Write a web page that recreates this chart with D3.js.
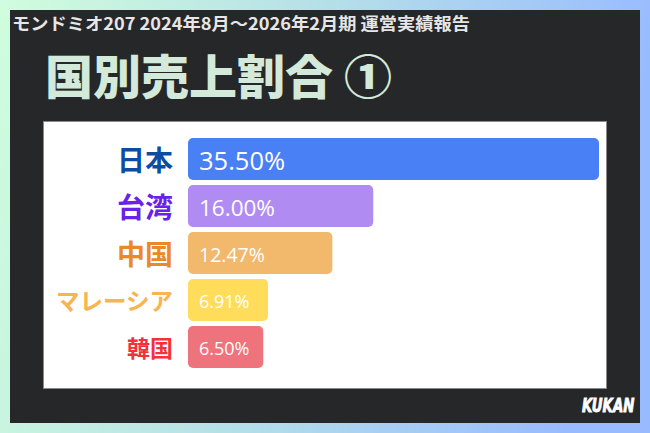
<!DOCTYPE html>
<html><head><meta charset="utf-8">
<script src="https://cdn.jsdelivr.net/npm/d3@7"></script>
<style>
html,body{margin:0;padding:0;}
body{width:650px;height:433px;overflow:hidden;}
</style></head>
<body>
<svg id="c" width="650" height="433"></svg>
<script>
const headerText = "モンドミオ207 2024年8月～2026年2月期 運営実績報告";
const titleText = "国別売上割合 ①";
const categories = ["日本", "台湾", "中国", "マレーシア", "韓国"];
const shares = [35.50, 16.00, 12.47, 6.91, 6.50];
const valueLabels = ["35.50%", "16.00%", "12.47%", "6.91%", "6.50%"];
const barColors = ["#4a80f5", "#b08cf2", "#f2b86c", "#ffdd5a", "#ef737c"];
const labelColors = ["#0b4da2", "#6a22e8", "#e9892a", "#f7b552", "#f33138"];
const labelSizes = [28, 28, 28, 23.5, 23];
const valueSizes = [25.5, 22.5, 19.5, 18, 18];

const svg = d3.select("#c");
const defs = svg.append("defs");
const g = defs.append("linearGradient").attr("id","bg").attr("x1","0").attr("y1","0").attr("x2","1").attr("y2","0.15");
g.append("stop").attr("offset","0").attr("stop-color","#d0fddd");
g.append("stop").attr("offset","0.5").attr("stop-color","#b5dfe8");
g.append("stop").attr("offset","1").attr("stop-color","#98bbff");
svg.append("rect").attr("width",650).attr("height",433).attr("fill","url(#bg)");
svg.append("rect").attr("x",10).attr("y",10).attr("width",630).attr("height",413).attr("fill","#262729");

svg.append("text").attr("x",12).attr("y",30)
  .attr("font-family","'Noto Sans CJK JP', Roboto, sans-serif").attr("font-weight",700)
  .attr("font-size",17).attr("fill","#e6e6e6").text(headerText)
  .attr("textLength",458).attr("lengthAdjust","spacingAndGlyphs");

svg.append("text").attr("x",45).attr("y",94)
  .attr("font-family","'Noto Sans CJK JP', sans-serif").attr("font-weight",900)
  .attr("font-size",47).attr("fill","#d3eadb").text(titleText)
  .attr("textLength",347).attr("lengthAdjust","spacingAndGlyphs");

svg.append("rect").attr("x",43.5).attr("y",121.5).attr("width",563).attr("height",267)
  .attr("fill","#ffffff").attr("stroke","#8a8a8a").attr("stroke-width",1);

const x = d3.scaleLinear().domain([0, 35.5]).range([188, 599]);
const y = d3.scaleBand().domain(categories).range([138, 368]).paddingInner(0.106).paddingOuter(0);

const rows = svg.append("g").selectAll("g").data(categories).join("g");
rows.append("rect")
  .attr("x", x(0)).attr("y", d => y(d))
  .attr("width", (d,i) => x(shares[i]) - x(0)).attr("height", y.bandwidth())
  .attr("rx",5).attr("ry",5)
  .attr("fill", (d,i) => barColors[i]);
rows.append("text")
  .attr("x", x(0) - 15).attr("y", d => y(d) + y.bandwidth()/2)
  .attr("text-anchor","end").attr("dominant-baseline","central")
  .attr("font-family","'Noto Sans CJK JP', sans-serif").attr("font-weight",700)
  .attr("font-size",(d,i)=>labelSizes[i]).attr("fill",(d,i)=>labelColors[i])
  .text(d => d);
rows.append("text")
  .attr("x", x(0) + 11).attr("y", d => y(d) + y.bandwidth()/2 + 1)
  .attr("dominant-baseline","central")
  .attr("font-family","'Open Sans', sans-serif").attr("font-weight",400)
  .attr("font-size",(d,i)=>valueSizes[i]).attr("fill","#ffffff")
  .text((d,i) => valueLabels[i]);

svg.append("g").attr("transform","translate(582,412) scale(0.78,1)")
  .append("text").attr("x",0).attr("y",0)
  .attr("font-family","'DejaVu Sans Condensed', 'DejaVu Sans', sans-serif").attr("font-weight",700).attr("font-style","italic")
  .attr("font-size",19).attr("fill","#ffffff").attr("stroke","#ffffff").attr("stroke-width",0.8)
  .text("KUKAN");
</script>
</body></html>
